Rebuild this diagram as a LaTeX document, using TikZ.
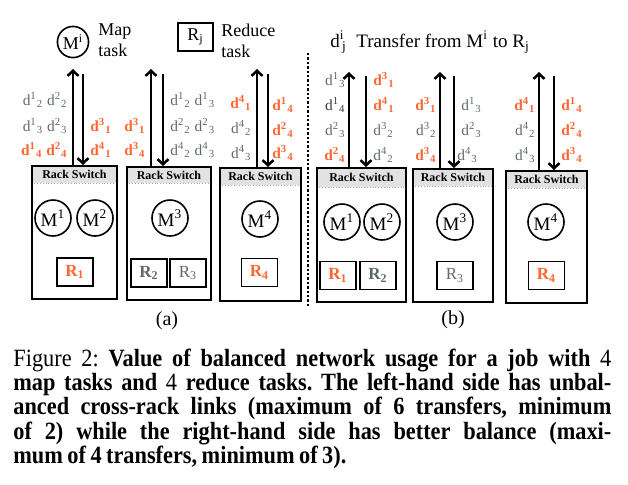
\documentclass[tikz,border=0pt]{standalone}
\usepackage{fontspec}
\setmainfont{Liberation Serif}
\newfontfamily\capfont[FakeStretch=0.9, WordSpace=0.8]{Liberation Serif}
\usetikzlibrary{arrows.meta,fit}
\definecolor{xferred}{HTML}{FF6633}
\definecolor{xfergray}{HTML}{5E6B66}
\definecolor{xferdark}{HTML}{3A3A3A}
\definecolor{switchgray}{HTML}{E2E2E2}
\newcommand{\dtr}[2]{d\textsuperscript{#1}\textsubscript{#2}}

\begin{document}
\begin{tikzpicture}[
    x=0.5pt, y=-0.5pt,
    every node/.style={inner sep=0pt},
    rack/.style={draw, line width=1pt, inner sep=0pt},
    switch/.style={fill=switchgray, inner sep=0pt,
                   label={[font=\fontsize{6}{7}\selectfont\bfseries]center:Rack Switch}},
    switchline/.style={draw=gray!70, densely dotted, line width=0.4pt},
    maptask/.style={circle, draw, line width=0.8pt, minimum size=18pt,
                    inner sep=0pt, font=\fontsize{9.5}{11}\selectfont},
    reducetask/.style={rectangle, draw, line width=0.9pt, minimum width=18pt,
                       minimum height=14pt, font=\fontsize{8.5}{10}\selectfont},
    local/.style={text=xfergray, font=\fontsize{7.7}{9}\selectfont},
    remote/.style={text=xferred, font=\fontsize{7.7}{9}\selectfont\bfseries},
    legend/.style={align=left, font=\fontsize{9}{10.5}\selectfont},
    link/.style={line width=1.25pt, -{Straight Barb[length=2.6pt,width=5.5pt]}},
    divider/.style={densely dotted, line width=1.2pt},
    caption/.style={text width=299pt, align=justify,
                    font=\capfont\fontsize{12.4}{12.2}\selectfont\frenchspacing},
]
\useasboundingbox (0,0) rectangle (628,484);

% ---------- Legend ----------
\node[maptask, minimum size=14.5pt, inner sep=1pt, font=\fontsize{9}{10}\selectfont]
    (legM) at (73,42) {M\textsuperscript{i}};
\node[legend, anchor=west] (legMtext) at (98,40) {Map\\task};
\node[reducetask, minimum width=17.5pt, font=\fontsize{9}{10}\selectfont]
    (legR) at (195.5,37) {R\textsubscript{j}};
\node[legend, anchor=west] (legRtext) at (221,41) {Reduce\\task};
\node[legend, anchor=west, font=\fontsize{9.5}{11}\selectfont] (legD) at (330,42)
    {d\textsuperscript{i}\kern-1.2pt\textsubscript{j}\ \ Transfer from M\textsuperscript{i} to R\textsubscript{j}};

% ---------- Divider ----------
\coordinate (divtop) at (308,53);
\coordinate (divbot) at (308,307);
\draw[divider] (divtop) -- (divbot);

% ---------- (a) racks ----------
\node[switch, fit={(32,166) (117,183)}]  (sa1) {};
\node[switch, fit={(127,167) (211,183)}] (sa2) {};
\node[switch, fit={(220,168) (301,185)}] (sa3) {};
\draw[switchline] (sa1.south west) -- (sa1.south east);
\draw[switchline] (sa2.south west) -- (sa2.south east);
\draw[switchline] (sa3.south west) -- (sa3.south east);
\node[rack, fit={(32,166) (117,299)}]  (ra1) {};
\node[rack, fit={(127,167) (211,300)}] (ra2) {};
\node[rack, fit={(220,168) (301,301)}] (ra3) {};

\node[maptask] (am1) at (53,218)  {M\textsuperscript{1}};
\node[maptask] (am2) at (95,218)  {M\textsuperscript{2}};
\node[maptask] (am3) at (170,218) {M\textsuperscript{3}};
\node[maptask] (am4) at (260,219) {M\textsuperscript{4}};

\node[reducetask, text=xferred, font=\fontsize{8.5}{10}\selectfont\bfseries]
    (ar1) at (75,272) {R\textsubscript{1}};
\node[reducetask, text=xfergray, font=\fontsize{8.5}{10}\selectfont\bfseries]
    (ar2) at (149,273) {R\textsubscript{2}};
\node[reducetask, text=xfergray] (ar3) at (188,273) {R\textsubscript{3}};
\node[reducetask, text=xferred, font=\fontsize{8.5}{10}\selectfont\bfseries]
    (ar4) at (259.5,272.5) {R\textsubscript{4}};

% ---------- (a) uplinks ----------
\coordinate (a1up) at (73,69);   \coordinate (a1dn) at (83,74);
\coordinate (a2up) at (151,69);  \coordinate (a2dn) at (163,74);
\coordinate (a3up) at (257,69);  \coordinate (a3dn) at (268,74);
\draw[link] (a1up |- ra1.north) -- (a1up);
\draw[link] (a1dn) -- (a1dn |- ra1.north);
\draw[link] (a2up |- ra2.north) -- (a2up);
\draw[link] (a2dn) -- (a2dn |- ra2.north);
\draw[link] (a3up |- ra3.north) -- (a3up);
\draw[link] (a3dn) -- (a3dn |- ra3.north);

% ---------- (a) transfers ----------
\node[local,  anchor=east] (ta1) at (68,100) {\dtr12\ \dtr22};
\node[local,  anchor=east] (ta2) at (68,126) {\dtr13\ \dtr23};
\node[remote, anchor=east] (ta3) at (68,150) {\dtr14\ \dtr24};
\node[remote, anchor=west] (ta4) at (90,126) {\dtr31};
\node[remote, anchor=west] (ta5) at (90,150) {\dtr41};

\node[remote, anchor=east] (ta6)  at (146,126) {\dtr31};
\node[remote, anchor=east] (ta7)  at (146,150) {\dtr34};
\node[local,  anchor=west] (ta8)  at (170,100) {\dtr12\ \dtr13};
\node[local,  anchor=west] (ta9)  at (170,126) {\dtr22\ \dtr23};
\node[local,  anchor=west] (ta10) at (170,150) {\dtr42\ \dtr43};

\node[remote, anchor=east] (ta11) at (252,103) {\dtr41};
\node[local,  anchor=east] (ta12) at (252,128) {\dtr42};
\node[local,  anchor=east] (ta13) at (252,153) {\dtr43};
\node[remote, anchor=west] (ta14) at (272,105) {\dtr14};
\node[remote, anchor=west] (ta15) at (272,130) {\dtr24};
\node[remote, anchor=west] (ta16) at (272,153) {\dtr34};

% ---------- (b) racks ----------
\node[switch, fit={(317,168) (406,187)}] (sb1) {};
\node[switch, fit={(413,169) (493,186)}] (sb2) {};
\node[switch, fit={(506,171) (587,188)}] (sb3) {};
\draw[switchline] (sb1.south west) -- (sb1.south east);
\draw[switchline] (sb2.south west) -- (sb2.south east);
\draw[switchline] (sb3.south west) -- (sb3.south east);
\node[rack, fit={(317,168) (406,302)}] (rb1) {};
\node[rack, fit={(413,169) (493,302)}] (rb2) {};
\node[rack, fit={(506,171) (587,303)}] (rb3) {};

\node[maptask] (bm1) at (342,222) {M\textsuperscript{1}};
\node[maptask] (bm2) at (382,222) {M\textsuperscript{2}};
\node[maptask] (bm3) at (455,222) {M\textsuperscript{3}};
\node[maptask] (bm4) at (546,222) {M\textsuperscript{4}};

\node[reducetask, text=xferred, font=\fontsize{8.5}{10}\selectfont\bfseries]
    (br1) at (338,275.5) {R\textsubscript{1}};
\node[reducetask, text=xfergray, font=\fontsize{8.5}{10}\selectfont\bfseries]
    (br2) at (378,275.5) {R\textsubscript{2}};
\node[reducetask, text=xfergray] (br3) at (455,275.5) {R\textsubscript{3}};
\node[reducetask, text=xferred, font=\fontsize{8.5}{10}\selectfont\bfseries]
    (br4) at (546.5,275.5) {R\textsubscript{4}};

% ---------- (b) uplinks ----------
\coordinate (b1up) at (349,72);  \coordinate (b1dn) at (366,76);
\coordinate (b2up) at (440,72);  \coordinate (b2dn) at (454,76);
\coordinate (b3up) at (539,72);  \coordinate (b3dn) at (554,76);
\draw[link] (b1up |- rb1.north) -- (b1up);
\draw[link] (b1dn) -- (b1dn |- rb1.north);
\draw[link] (b2up |- rb2.north) -- (b2up);
\draw[link] (b2dn) -- (b2dn |- rb2.north);
\draw[link] (b3up |- rb3.north) -- (b3up);
\draw[link] (b3dn) -- (b3dn |- rb3.north);

% ---------- (b) transfers ----------
\node[local,  anchor=east] (tb1) at (346,80)  {\dtr13};
\node[local,  anchor=east, text=xferdark] (tb2) at (346,105) {\dtr14};
\node[local,  anchor=east] (tb3) at (346,130) {\dtr23};
\node[remote, anchor=east] (tb4) at (346,155) {\dtr24};
\node[remote, anchor=west] (tb5) at (373,80)  {\dtr31};
\node[remote, anchor=west] (tb6) at (373,105) {\dtr41};
\node[local,  anchor=west] (tb7) at (373,130) {\dtr32};
\node[local,  anchor=west] (tb8) at (373,155) {\dtr42};

\node[remote, anchor=east] (tb9)  at (437,105) {\dtr31};
\node[local,  anchor=east] (tb10) at (437,130) {\dtr32};
\node[remote, anchor=east] (tb11) at (437,155) {\dtr34};
\node[local,  anchor=west] (tb12) at (461,105) {\dtr13};
\node[local,  anchor=west] (tb13) at (461,130) {\dtr23};
\node[local,  anchor=west] (tb14) at (457,155) {\dtr43};

\node[remote, anchor=east] (tb15) at (536,105) {\dtr41};
\node[local,  anchor=east] (tb16) at (536,130) {\dtr42};
\node[local,  anchor=east] (tb17) at (536,155) {\dtr43};
\node[remote, anchor=west] (tb18) at (561,105) {\dtr14};
\node[remote, anchor=west] (tb19) at (561,130) {\dtr24};
\node[remote, anchor=west] (tb20) at (561,155) {\dtr34};

% ---------- Sub-captions ----------
\node[font=\fontsize{10}{12}\selectfont] (suba) at (167,321) {(a)};
\node[font=\fontsize{10}{12}\selectfont] (subb) at (453,320) {(b)};

% ---------- Caption ----------
\node[caption, anchor=base west] (caption) at (13,366)
    {Figure 2: \textbf{Value of balanced network usage for a job with} 4\linebreak
     \textbf{map tasks and} 4 \textbf{reduce tasks. The left-hand side has unbal-}\linebreak
     \textbf{anced cross-rack links (maximum of 6 transfers, minimum}\linebreak
     \textbf{of 2) while the right-hand side has better balance (maxi-}\linebreak
     \textbf{mum of 4 transfers, minimum of 3).}};

\end{tikzpicture}
\end{document}
